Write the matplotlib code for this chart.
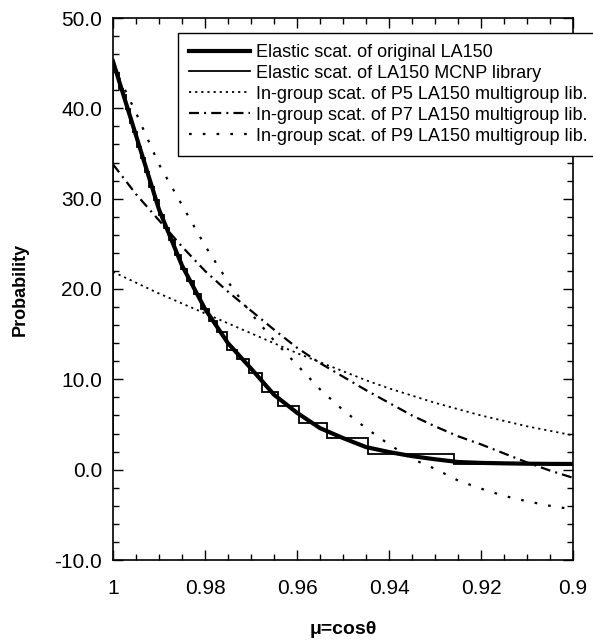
import matplotlib
matplotlib.use('Agg')
import matplotlib.pyplot as plt
from matplotlib.ticker import MultipleLocator, FormatStrFormatter, FixedLocator

# mu grid for the smooth curves
mu = [1.000, 0.995, 0.990, 0.985, 0.980, 0.975, 0.970, 0.965, 0.960, 0.955,
      0.950, 0.945, 0.940, 0.935, 0.930, 0.925, 0.920, 0.915, 0.910, 0.905, 0.900]

# Elastic scattering of original LA150
orig = [45.2, 37.0, 28.8, 22.6, 17.8, 14.0, 11.2, 8.3, 6.3, 4.6,
        3.5, 2.5, 1.95, 1.5, 1.15, 0.85, 0.75, 0.7, 0.66, 0.64, 0.63]

# P5 / P7 / P9 in-group scattering
p5 = [21.9, 20.7, 19.5, 18.4, 17.3, 16.2, 15.1, 14.0, 12.9, 11.9,
      10.9, 9.9, 9.0, 8.2, 7.4, 6.7, 6.0, 5.4, 4.8, 4.3, 3.8]
p7 = [33.8, 30.5, 27.6, 24.7, 22.0, 19.7, 17.6, 15.5, 13.5, 11.8,
      10.3, 8.8, 7.4, 6.0, 4.8, 3.7, 2.8, 1.8, 0.8, -0.1, -0.9]
p9 = [44.8, 39.5, 33.8, 29.3, 24.8, 20.8, 17.3, 14.3, 11.6, 8.9,
      6.6, 4.6, 2.8, 1.2, 0.1, -1.2, -2.1, -2.9, -3.5, -4.0, -4.4]

# MCNP library equiprobable bins (edges and levels)
bin_edges = [1.0, 0.99931, 0.99861, 0.99788, 0.99714, 0.99637, 0.99557, 0.99475,
             0.99389, 0.99300, 0.99207, 0.99109, 0.99006, 0.98897, 0.98782,
             0.98661, 0.98532, 0.98394, 0.98247, 0.98089, 0.97917, 0.97731,
             0.97529, 0.97299, 0.97047, 0.96759, 0.9641, 0.9596, 0.9535,
             0.9446, 0.9259, 0.876]
bin_levels = [44.5, 43.9, 42.1, 41.5, 39.9, 38.4, 37.4, 35.7, 34.5, 33.0,
              31.3, 29.8, 28.2, 26.7, 25.4, 23.8, 22.2, 20.9, 19.4, 17.8,
              16.5, 15.2, 13.3, 12.2, 10.7, 8.6, 7.0, 5.2, 3.5, 1.75, 0.63]

x_ticks = [1.0, 0.98, 0.96, 0.94, 0.92, 0.90]
x_labels = ['1', '0.98', '0.96', '0.94', '0.92', '0.9']

labels = ['Elastic scat. of original LA150',
          'Elastic scat. of LA150 MCNP library',
          'In-group scat. of P5 LA150 multigroup lib.',
          'In-group scat. of P7 LA150 multigroup lib.',
          'In-group scat. of P9 LA150 multigroup lib.']

plt.rcParams['font.family'] = ['Liberation Sans', 'DejaVu Sans']

fig = plt.figure(figsize=(5.93, 6.4), dpi=100)
ax = fig.add_axes([113 / 593, 1 - 560 / 640, 460 / 593, 542 / 640])

ax.plot(mu, orig, color='black', lw=3.0, label=labels[0], zorder=5)
ax.stairs(bin_levels, bin_edges, color='black', lw=1.3, label=labels[1], zorder=4)
ax.plot(mu, p5, color='black', lw=1.3, ls=(0, (1.2, 2.2)), label=labels[2])
ax.plot(mu, p7, color='black', lw=1.6, ls=(0, (4.5, 2.3, 0.9, 2.3)), label=labels[3])
ax.plot(mu, p9, color='black', lw=1.6, ls=(0, (1.2, 5)), label=labels[4])

ax.set_xlim(1.0, 0.9)
ax.set_ylim(-10, 50)
ax.xaxis.set_major_locator(FixedLocator(x_ticks))
ax.set_xticklabels(x_labels)
ax.xaxis.set_minor_locator(MultipleLocator(0.005))
ax.yaxis.set_major_locator(MultipleLocator(10))
ax.yaxis.set_minor_locator(MultipleLocator(2))
ax.yaxis.set_major_formatter(FormatStrFormatter('%.1f'))

ax.tick_params(which='both', direction='in', top=True, right=True, width=1.0,
               labelsize=15)
ax.tick_params(which='major', length=7)
ax.tick_params(which='minor', length=4)
ax.tick_params(axis='x', which='major', pad=14)
ax.tick_params(axis='y', which='major', pad=8)
for sp in ax.spines.values():
    sp.set_linewidth(1.2)

ax.set_xlabel('μ=cosθ', fontsize=14, fontweight='bold', labelpad=16)
ax.set_ylabel('Probability', fontsize=13, fontweight='bold', labelpad=18)

leg = fig.legend(loc='upper left', bbox_to_anchor=(178 / 593, 1 - 33 / 640),
                 borderaxespad=0, frameon=True, fancybox=False, edgecolor='black',
                 framealpha=1, handlelength=3.4, handletextpad=0.33,
                 labelspacing=0.22, borderpad=0.6, prop={'size': 13})
leg.get_frame().set_linewidth(1.0)

fig.savefig('out.png', dpi=100)
